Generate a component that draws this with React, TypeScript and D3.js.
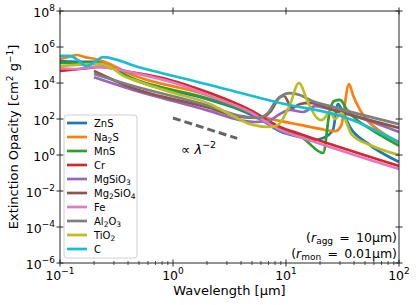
import * as d3 from 'd3';

// Extinction opacity curves, [wavelength (μm), opacity (cm² g⁻¹)]
const znsData: [number, number][] = [
  [0.1, 1.66e5], [0.184, 1.48e5], [0.226, 1.48e5], [0.416, 1.9e4], [2.12, 1.15e3], [3.92, 3.2e2],
  [5.89, 1.0e2], [8.85, 21], [13.3, 10], [17.3, 6.8], [21.3, 8.7], [26.0, 24], [28.8, 6.8e2],
  [31.3, 3.2e2], [36.8, 36], [52.1, 4.7], [100, 0.41],
];
const na2sData: [number, number][] = [
  [0.1, 2.14e5], [0.118, 2.75e5], [0.141, 3.6e5], [0.166, 2.75e5], [0.204, 2.14e5], [0.25, 1.48e5],
  [0.416, 3.2e4], [2.12, 1.9e3], [3.92, 4.1e2], [5.89, 1.48e2], [8.85, 78], [13.3, 47], [20.0, 28],
  [27.2, 21], [30.7, 41], [36.1, 8.7e3], [39.2, 2.1e3], [45.2, 3.2e2], [52.1, 87], [67.9, 21], [100, 4.7],
];
const mnsData: [number, number][] = [
  [0.1, 1.29e5], [0.15, 1.29e5], [0.217, 1.29e5], [0.25, 1.0e5], [0.416, 2.1e4], [2.12, 1.29e3],
  [3.92, 3.6e2], [5.89, 1.29e2], [8.85, 28], [14.1, 8.7], [21.3, 1.29], [24.5, 3.2e2], [26.6, 1.0e3],
  [30.1, 1.15e3], [34.7, 3.2e2], [42.5, 87], [52.1, 36], [100, 3.2],
];
const crData: [number, number][] = [
  [0.1, 4.7e4], [0.15, 6.0e4], [0.226, 7.8e4], [0.416, 4.1e4], [0.94, 1.48e4], [2.12, 2.75e3],
  [4.8, 3.2e2], [8.85, 36], [13.3, 14.8], [100, 0.245],
];
const mgsio3Data: [number, number][] = [
  [0.2, 2.1e4], [0.416, 4.7e3], [2.12, 2.75e2], [3.92, 87], [5.32, 68], [6.93, 78], [8.85, 1.9e2],
  [10.8, 3.2e2], [14.1, 2.45e2], [18.1, 5.2e2], [22.1, 4.1e2], [100, 19],
];
const mg2sio4Data: [number, number][] = [
  [0.2, 4.7e4], [0.416, 6.0e3], [2.12, 4.1e2], [3.92, 1.29e2], [5.89, 1.15e2], [7.22, 2.45e2],
  [8.85, 1.66e3], [9.6, 1.9e3], [11.3, 4.1e2], [13.3, 6.8e2], [16.3, 7.8e2], [26.0, 3.2e2], [100, 32],
];
const feData: [number, number][] = [
  [0.1, 6.8e4], [0.136, 6.0e4], [0.217, 7.8e4], [0.49, 3.2e4], [1.11, 8.7e3], [2.12, 1.9e3],
  [4.8, 2.45e2], [8.85, 24.5], [13.3, 10], [100, 0.166],
];
const al2o3Data: [number, number][] = [
  [0.2, 3.2e4], [0.416, 7.8e3], [2.12, 5.2e2], [3.92, 1.48e2], [5.65, 1.15e2], [6.93, 2.14e2],
  [8.0, 8.7e2], [10.8, 2.75e3], [13.3, 2.14e3], [16.3, 1.15e3], [26.0, 4.7e2], [100, 52],
];
const tio2Data: [number, number][] = [
  [0.1, 8.7e4], [0.226, 1.15e5], [0.289, 6.8e4], [0.354, 2.75e4], [0.51, 1.15e4], [0.94, 3.2e3],
  [2.12, 6.8e2], [3.54, 1.29e2], [4.8, 52], [7.22, 36], [8.5, 47], [10.8, 6.0e2], [13.0, 1.0e4],
  [15.7, 7.8e2], [18.8, 1.15e2], [20.8, 87], [24.5, 2.45e2], [27.2, 1.0e2], [30.7, 2.14e2],
  [38.4, 13], [55.4, 3.6], [100, 1.0],
];
const cData: [number, number][] = [
  [0.1, 3.2e5], [0.122, 3.2e5], [0.144, 1.9e5], [0.17, 8.7e4], [0.204, 1.48e5], [0.24, 2.75e5],
  [0.49, 7.8e4], [2.12, 7.8e3], [8.85, 7.8e2], [34.7, 1.15e2], [100, 5.3],
];

// reference slope  ∝ λ^-2
const slopeRange = [1.0, 3.7];
const slopeNorm = 114;

const materials = ['ZnS', 'Na2S', 'MnS', 'Cr', 'MgSiO3', 'Mg2SiO4', 'Fe', 'Al2O3', 'TiO2', 'C'];
const seriesData = [znsData, na2sData, mnsData, crData, mgsio3Data, mg2sio4Data, feData, al2o3Data, tio2Data, cData];
const COLORS = ['#1f77b4', '#ff7f0e', '#2ca02c', '#d62728', '#9467bd', '#8c564b', '#e377c2', '#7f7f7f', '#bcbd22', '#17becf'];

const xTicks = [0.1, 1, 10, 100];
const xTickExp = ['−1', '0', '1', '2'];
const yTicks = [1e-6, 1e-4, 1e-2, 1, 1e2, 1e4, 1e6, 1e8];
const yTickExp = ['−6', '−4', '−2', '0', '2', '4', '6', '8'];

const W = 416;
const H = 305;
const margin = { top: 11, right: 17, bottom: 42, left: 60 };
const FONT = 'DejaVu Sans, sans-serif';

// chemical formula with subscripted digits
function Formula({ text }: { text: string }) {
  const parts = text.match(/(\d+|\D+)/g) || [];
  let down = false;
  return (
    <>
      {parts.map((p, i) => {
        const isNum = /\d/.test(p);
        let dy = 0;
        if (isNum && !down) { dy = 2.5; down = true; }
        else if (!isNum && down) { dy = -2.5; down = false; }
        return (
          <tspan key={i} dy={dy} fontSize={isNum ? 7.5 : 10}>{p}</tspan>
        );
      })}
    </>
  );
}

export default function App() {
  const x0 = margin.left, x1 = W - margin.right;
  const y0 = margin.top, y1 = H - margin.bottom;

  const x = d3.scaleLog().domain([0.1, 100]).range([x0, x1]);
  const y = d3.scaleLog().domain([1e-6, 1e8]).range([y1, y0]);

  const line = d3.line<[number, number]>()
    .x(d => x(d[0]))
    .y(d => y(d[1]))
    .curve(d3.curveMonotoneX);

  const minorX: number[] = [];
  for (let e = -1; e < 2; e++) {
    for (let m = 2; m <= 9; m++) minorX.push(m * Math.pow(10, e));
  }

  const slopeLine = slopeRange.map(l => [l, slopeNorm * Math.pow(l, -2)] as [number, number]);

  const axisColor = '#262626';

  return (
    <svg width={W} height={H} style={{ position: 'absolute', left: 0, top: 0, background: '#fff' }} fontFamily={FONT}>
      <defs>
        <clipPath id="plot">
          <rect x={x0} y={y0} width={x1 - x0} height={y1 - y0} />
        </clipPath>
      </defs>

      <g clipPath="url(#plot)">
        {seriesData.map((d, i) => (
          <path key={materials[i]} d={line(d) || ''} fill="none" stroke={COLORS[i]} strokeWidth={2.7}
            strokeLinejoin="round" strokeLinecap="butt" />
        ))}
        <path d={d3.line<[number, number]>().x(d => x(d[0])).y(d => y(d[1]))(slopeLine) || ''}
          fill="none" stroke="#666" strokeWidth={3} strokeDasharray="8,4" />
      </g>

      <text x={181} y={154} fontSize={13} fill="#000">
        ∝ <tspan fontStyle="italic">λ</tspan><tspan dy={-6} fontSize={9.5}>−2</tspan>
      </text>

      {/* frame */}
      <rect x={x0} y={y0} width={x1 - x0} height={y1 - y0} fill="none" stroke={axisColor} strokeWidth={1} />

      {/* x ticks */}
      {xTicks.map((t, i) => (
        <g key={'xt' + t}>
          <line x1={x(t)} x2={x(t)} y1={y1 - 3.5} y2={y1 + 3.5} stroke={axisColor} />
          <line x1={x(t)} x2={x(t)} y1={y0 - 3.5} y2={y0 + 3.5} stroke={axisColor} />
          <text x={x(t)} y={280} textAnchor="middle" fontSize={12.5} fill="#000">
            10<tspan dy={-6} fontSize={9}>{xTickExp[i]}</tspan>
          </text>
        </g>
      ))}
      {minorX.map(t => (
        <line key={'xm' + t} x1={x(t)} x2={x(t)} y1={y1 - 2} y2={y1 + 2} stroke={axisColor} strokeWidth={0.8} />
      ))}

      {/* y ticks */}
      {yTicks.map((t, i) => (
        <g key={'yt' + t}>
          <line x1={x0 - 3.5} x2={x0 + 3.5} y1={y(t)} y2={y(t)} stroke={axisColor} />
          <line x1={x1 - 3.5} x2={x1 + 3.5} y1={y(t)} y2={y(t)} stroke={axisColor} />
          <text x={55} y={y(t) + 5.5} textAnchor="end" fontSize={12.5} fill="#000">
            10<tspan dy={-6} fontSize={9}>{yTickExp[i]}</tspan>
          </text>
        </g>
      ))}

      {/* axis labels */}
      <text x={(x0 + x1) / 2} y={295} textAnchor="middle" fontSize={13} fill="#000">Wavelength [μm]</text>
      <text transform={`translate(18,${(y0 + y1) / 2}) rotate(-90)`} textAnchor="middle" fontSize={13} fill="#000">
        Extinction Opacity [cm<tspan dy={-5} fontSize={9}>2</tspan><tspan dy={5}> g</tspan><tspan dy={-5} fontSize={9}>−1</tspan><tspan dy={5}>]</tspan>
      </text>

      {/* aggregate annotation */}
      <text x={397} y={242} textAnchor="end" fontSize={12.5} fill="#000">
        (<tspan fontStyle="italic">r</tspan><tspan dy={2} fontSize={9}>agg</tspan><tspan dy={-2}>{'\u2002=\u2002'}10μm)</tspan>
      </text>
      <text x={397} y={258} textAnchor="end" fontSize={12.5} fill="#000">
        (<tspan fontStyle="italic">r</tspan><tspan dy={2} fontSize={9}>mon</tspan><tspan dy={-2}>{'\u2002=\u2002'}0.01μm)</tspan>
      </text>

      {/* legend */}
      <g>
        <rect x={64} y={115} width={73} height={143} rx={3} fill="#fff" fillOpacity={0.85} stroke="#d0d0d0" strokeWidth={1} />
        {materials.map((m, i) => {
          const ly = 123 + i * 14.0;
          return (
            <g key={'lg' + m}>
              <line x1={67} x2={87} y1={ly} y2={ly} stroke={COLORS[i]} strokeWidth={2.7} />
              <text x={94} y={ly + 3.6} fontSize={10} fill="#000"><Formula text={m} /></text>
            </g>
          );
        })}
      </g>
    </svg>
  );
}
